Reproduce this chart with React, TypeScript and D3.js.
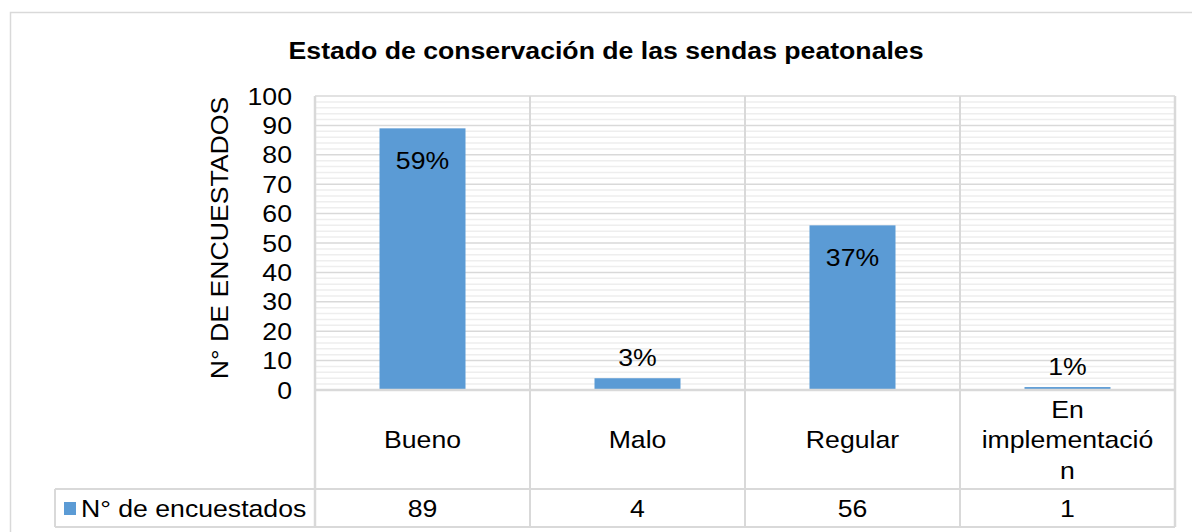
import React from "react";
import * as d3 from "d3";

const title = "Estado de conservación de las sendas peatonales";
const yAxisTitle = "N° DE ENCUESTADOS";
const seriesName = "N° de encuestados";
const categories = ["Bueno", "Malo", "Regular", "En implementación"];
const categoryLines = [["Bueno"], ["Malo"], ["Regular"], ["En", "implementació", "n"]];
const values = [89, 4, 56, 1];
const yTicks = [0, 10, 20, 30, 40, 50, 60, 70, 80, 90, 100];
const minorTicks = d3.range(0, 101, 2);

const FONT = "'Liberation Sans', Arial, sans-serif";
const SX = 1.11;
const FS = 24;

function T({ x, y, children, anchor = "middle", size = FS, weight = "normal", rotate = 0 }: any) {
  return (
    <g transform={`translate(${x},${y}) rotate(${rotate})`}>
      <text
        transform={`scale(${SX},1)`}
        textAnchor={anchor}
        dominantBaseline="central"
        fontFamily={FONT}
        fontSize={size}
        fontWeight={weight}
        fill="#000"
      >
        {children}
      </text>
    </g>
  );
}

export default function App() {
  const W = 1192, H = 532;
  const left = 315, right = 1175, top = 96, bottom = 390;
  const rowMid = 489, rowBot = 527, legendLeft = 55;
  const x = d3.scaleBand<string>().domain(categories).range([left, right]).paddingInner(0.6).paddingOuter(0.3);
  const y = d3.scaleLinear().domain([0, 100]).range([bottom, top]);
  const step = x.step();
  const total = d3.sum(values);
  const grid = "#d9d9d9";

  return (
    <svg width={W} height={H} style={{ position: "absolute", left: 0, top: 0, background: "#fff" }}>
      <rect x={0} y={0} width={W} height={H} fill="#fff" />
      <rect x={10.5} y={12.5} width={W + 20} height={H + 20} fill="none" stroke={grid} strokeWidth={1.5} />
      <T x={606} y={50} size={24} weight="bold">{title}</T>
      {minorTicks.filter((t) => t % 10 !== 0).map((t) => (
        <line key={"m" + t} x1={left} x2={right} y1={y(t)} y2={y(t)} stroke="#eeeeee" strokeWidth={1.5} />
      ))}
      {yTicks.map((t) => (
        <line key={"g" + t} x1={left} x2={right} y1={y(t)} y2={y(t)} stroke={grid} strokeWidth={1.5} />
      ))}
      {yTicks.map((t) => (
        <T key={"t" + t} x={292} y={y(t)} anchor="end">{t}</T>
      ))}
      <T x={219} y={(top + bottom) / 2 - 5} rotate={-90}>{yAxisTitle}</T>
      {categories.map((c, i) => (
        <rect key={c} x={x(c)} y={y(values[i])} width={x.bandwidth()} height={bottom - y(values[i])} fill="#5b9bd5" />
      ))}
      {categories.map((c, i) => {
        const v = values[i];
        const pct = Math.round((v / total) * 100) + "%";
        const inside = bottom - y(v) > 60;
        const ly = inside ? y(v) + 32 : y(v) - 21;
        return <T key={"l" + c} x={x(c)! + x.bandwidth() / 2} y={ly}>{pct}</T>;
      })}
      <line x1={left} x2={right} y1={bottom} y2={bottom} stroke={grid} strokeWidth={2.5} />
      <line x1={legendLeft} x2={right} y1={rowMid} y2={rowMid} stroke={grid} strokeWidth={2} />
      <line x1={legendLeft} x2={right} y1={rowBot} y2={rowBot} stroke={grid} strokeWidth={2} />
      <line x1={legendLeft} x2={legendLeft} y1={rowMid} y2={rowBot} stroke={grid} strokeWidth={2} />
      {d3.range(categories.length + 1).map((i) => (
        <line key={"v" + i} x1={left + i * step} x2={left + i * step} y1={top} y2={rowBot} stroke={grid} strokeWidth={i === 0 || i === categories.length ? 2.5 : 2} />
      ))}
      {categories.map((c, i) => {
        const lines = categoryLines[i];
        const cx = left + (i + 0.5) * step;
        const lh = 30.5;
        const mid = (bottom + rowMid) / 2;
        return lines.map((ln, j) => (
          <T key={c + j} x={cx} y={mid + (j - (lines.length - 1) / 2) * lh}>{ln}</T>
        ));
      })}
      {values.map((v, i) => (
        <T key={"val" + i} x={left + (i + 0.5) * step} y={(rowMid + rowBot) / 2}>{v}</T>
      ))}
      <rect x={64} y={502} width={12} height={13} fill="#5b9bd5" />
      <T x={81} y={(rowMid + rowBot) / 2} anchor="start">{seriesName}</T>
    </svg>
  );
}
